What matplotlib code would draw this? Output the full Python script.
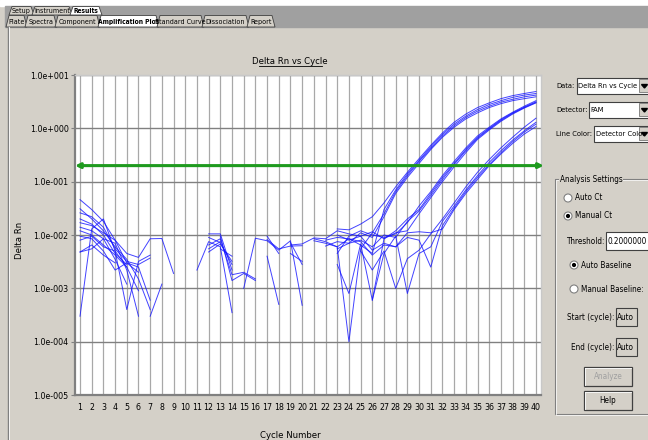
import numpy as np
import matplotlib.pyplot as plt
from matplotlib.patches import Rectangle, Polygon, Circle
from matplotlib.ticker import FixedLocator, FuncFormatter, NullLocator

plt.rcParams['font.family'] = ['DejaVu Sans']
plt.rcParams['font.stretch'] = 'condensed'

N = None
cycles = np.arange(1, 41)
threshold = 0.2

# Delta Rn per well; N where the baseline-corrected value drops below zero
well_a1 = [0.046, 0.030, 0.018, 0.008, 0.0045, 0.0038, 0.0085, 0.0086, 0.0019, N,
           N, 0.0105, 0.0105, 0.0022, N, N, 0.0082, 0.0055, 0.0062, 0.0063,
           N, N, 0.013, 0.0125, 0.016, 0.022, 0.040, 0.080, 0.150, 0.270,
           0.48, 0.82, 1.30, 1.85, 2.45, 3.00, 3.60, 4.10, 4.50, 4.90]
well_a2 = [0.031, 0.020, 0.012, 0.006, 0.0035, 0.0015, 0.0004, N, N, N,
           N, 0.0065, 0.0085, 0.0018, 0.0020, 0.0015, N, N, 0.0072, 0.0028,
           N, 0.0080, 0.0090, 0.0085, 0.0065, 0.0045, 0.030, 0.070, 0.140, 0.250,
           0.45, 0.77, 1.20, 1.70, 2.25, 2.80, 3.30, 3.80, 4.20, 4.50]
well_a3 = [0.0003, 0.013, 0.020, 0.005, 0.0004, 0.0032, 0.0042, N, N, N,
           0.0022, 0.0075, 0.0060, 0.00035, N, N, N, N, N, N,
           0.0085, 0.0075, 0.0060, 0.0001, 0.0055, 0.011, 0.025, 0.065, 0.130, 0.240,
           0.42, 0.72, 1.12, 1.60, 2.10, 2.60, 3.10, 3.50, 3.90, 4.20]
well_a4 = [0.020, 0.016, 0.010, 0.0045, 0.0028, N, N, N, N, N,
           N, 0.0055, 0.0075, N, 0.0010, 0.0087, 0.0078, 0.0052, 0.0078, 0.00048,
           N, N, 0.0055, 0.0070, 0.011, 0.0090, 0.022, 0.060, 0.120, 0.220,
           0.40, 0.68, 1.05, 1.50, 1.95, 2.45, 2.90, 3.30, 3.60, 3.90]
well_b1 = [0.014, 0.012, 0.0085, 0.0070, 0.0022, 0.0003, N, N, N, N,
           N, N, 0.0095, 0.0014, 0.0019, 0.0014, N, N, N, N,
           N, N, 0.0045, 0.0095, 0.012, 0.010, 0.009, 0.0105, 0.017, 0.035,
           0.065, 0.13, 0.24, 0.43, 0.72, 1.05, 1.50, 2.00, 2.60, 3.30]
well_b2 = [0.008, 0.0095, 0.006, 0.005, 0.0025, N, 0.0003, 0.0012, N, N,
           N, N, N, N, N, N, 0.0095, 0.0045, N, N,
           N, N, 0.0028, 0.0008, 0.0068, 0.0006, 0.0085, 0.012, 0.020, 0.030,
           0.060, 0.12, 0.22, 0.40, 0.68, 1.00, 1.45, 1.95, 2.50, 3.15]
well_b3 = [0.0048, 0.0065, 0.0042, 0.003, N, 0.00028, N, N, N, N,
           N, 0.009, 0.0072, 0.0028, N, N, 0.004, 0.0005, N, N,
           N, 0.0062, 0.0075, 0.007, 0.008, 0.006, 0.010, 0.009, 0.018, 0.028,
           0.055, 0.11, 0.21, 0.38, 0.65, 0.97, 1.40, 1.90, 2.45, 3.05]
well_b4 = [0.0095, 0.0085, 0.005, 0.0022, 0.003, 0.0025, 0.0006, N, N, N,
           N, N, N, N, N, N, N, N, 0.0065, 0.0068,
           0.0088, 0.0085, 0.012, 0.0105, 0.0095, 0.0115, 0.0085, 0.011, 0.012, 0.025,
           0.050, 0.10, 0.19, 0.35, 0.62, 0.93, 1.35, 1.85, 2.40, 3.00]
well_c1 = [0.026, 0.022, 0.014, 0.0055, 0.0032, 0.0028, 0.0037, N, N, N,
           N, 0.0048, 0.0068, 0.0032, N, N, N, N, 0.0045, 0.0032,
           N, N, N, N, 0.005, 0.0022, 0.005, 0.001, 0.0036, 0.0052,
           0.0105, 0.020, 0.040, 0.080, 0.15, 0.26, 0.43, 0.68, 1.05, 1.55]
well_c2 = [0.0048, 0.0055, 0.0085, 0.0035, 0.0012, N, N, N, N, N,
           N, N, 0.0055, 0.0040, N, N, N, N, N, N,
           N, N, N, N, N, 0.0006, 0.0045, 0.0095, 0.0008, 0.0045,
           0.006, 0.018, 0.035, 0.070, 0.13, 0.23, 0.38, 0.60, 0.90, 1.30]
well_c3 = [0.012, 0.010, 0.0065, 0.0042, 0.0025, 0.0009, N, N, N, N,
           N, N, N, N, N, N, N, N, N, N,
           0.0078, 0.007, 0.006, 0.0085, 0.0075, 0.0042, 0.0065, 0.006, 0.009, 0.008,
           0.0025, 0.015, 0.032, 0.065, 0.12, 0.21, 0.35, 0.56, 0.85, 1.20]
well_c4 = [0.017, 0.015, 0.011, 0.008, 0.003, 0.002, N, N, N, N,
           N, N, N, N, N, 0.0025, N, N, N, N,
           N, N, 0.010, 0.008, 0.0095, 0.0052, 0.007, 0.006, 0.011, 0.0115,
           0.011, 0.013, 0.030, 0.060, 0.11, 0.20, 0.33, 0.52, 0.78, 1.08]

wells = [well_a1, well_a2, well_a3, well_a4, well_b1, well_b2, well_b3, well_b4,
         well_c1, well_c2, well_c3, well_c4]

PANEL = '#d4d0c8'
DARK = '#808080'
FS = 5.9   # dialog text size

fig = plt.figure(figsize=(6.48, 4.4), dpi=100, facecolor=PANEL)

# window chrome drawn in pixel coordinates
bg = fig.add_axes([0, 0, 1, 1])
bg.set_xlim(0, 648)
bg.set_ylim(440, 0)
bg.axis('off')

bg.add_patch(Rectangle((0, 0), 648, 6, color='white'))
bg.add_patch(Rectangle((5, 6), 643, 21, color='#a0a0a0'))
bg.plot([8, 8], [27, 440], color=DARK, lw=1)
bg.plot([9, 9], [27, 440], color='white', lw=0.6)


def tab(x0, x1, y0, y1, label, selected=False):
    pts = [(x0, y1), (x0 + 3, y0), (x1 - 1, y0), (x1 + 2, y1)]
    bg.add_patch(Polygon(pts, closed=True, facecolor='white' if selected else PANEL,
                         edgecolor='#404040', lw=0.6))
    bg.text((x0 + x1) / 2 + 1, (y0 + y1) / 2 + 0.5, label, ha='center', va='center',
            fontsize=4.8 if selected else 5.1,
            fontweight='bold' if selected else 'normal', color='black')


for x0, x1, lab, sel in [(9, 32, 'Setup', False), (32, 70, 'Instrument', False),
                         (70, 100, 'Results', True)]:
    tab(x0, x1, 6.5, 15, lab, sel)
for x0, x1, lab, sel in [(6, 25, 'Plate', False), (25, 55, 'Spectra', False),
                         (55, 98, 'Component', False), (98, 157, 'Amplification Plot', True),
                         (157, 202, 'Standard Curve', False), (202, 247, 'Dissociation', False),
                         (247, 273, 'Report', False)]:
    tab(x0, x1, 15.5, 27, lab, sel)

# title and axis names
bg.text(290, 61, 'Delta Rn vs Cycle', ha='center', va='center', fontsize=6.8)
bg.plot([259, 322], [66, 66], color='black', lw=0.6)
bg.text(20, 240, 'Delta Rn', ha='center', va='center', rotation=90, fontsize=6.8)
bg.text(290, 435, 'Cycle Number', ha='center', va='center', fontsize=6.8)


def combo(x0, x1, y0, y1, text):
    bg.add_patch(Rectangle((x0, y0), x1 - x0, y1 - y0, facecolor='white',
                           edgecolor='#404040', lw=0.8))
    bg.add_patch(Rectangle((x1 - 11, y0 + 1.5), 11, y1 - y0 - 3, facecolor=PANEL,
                           edgecolor='#606060', lw=0.5))
    cx, cy = x1 - 5.5, (y0 + y1) / 2
    bg.add_patch(Polygon([(cx - 3, cy - 1.5), (cx + 3, cy - 1.5), (cx, cy + 2)],
                         closed=True, color='black'))
    bg.text(x0 + 1.5, (y0 + y1) / 2, text, ha='left', va='center', fontsize=5.4)


bg.text(556, 86, 'Data:', ha='left', va='center', fontsize=5.4)
combo(577, 650, 78, 94, 'Delta Rn vs Cycle')
bg.text(556, 110, 'Detector:', ha='left', va='center', fontsize=5.4)
combo(589, 650, 102, 118, 'FAM')
bg.text(556, 134, 'Line Color:', ha='left', va='center', fontsize=5.4)
combo(594, 650, 126, 142, 'Detector Color')

# analysis settings group
bg.add_patch(Rectangle((555, 179), 100, 235, facecolor='none', edgecolor=DARK, lw=0.8))
bg.add_patch(Rectangle((556, 180), 100, 235, facecolor='none', edgecolor='white', lw=0.5))
bg.text(560, 179, 'Analysis Settings', ha='left', va='center', fontsize=FS,
        bbox=dict(facecolor=PANEL, edgecolor='none', pad=0.5))


def radio(x, y, label, checked):
    bg.add_patch(Circle((x, y), 4, facecolor='white', edgecolor=DARK, lw=0.8))
    if checked:
        bg.add_patch(Circle((x, y), 1.4, color='black'))
    bg.text(x + 7, y, label, ha='left', va='center', fontsize=FS)


radio(568, 198, 'Auto Ct', False)
radio(568, 216, 'Manual Ct', True)
radio(574, 265, 'Auto Baseline', True)
radio(574, 289, 'Manual Baseline:', False)

bg.text(604, 241, 'Threshold:', ha='right', va='center', fontsize=FS)
bg.add_patch(Rectangle((606, 232), 44, 18, facecolor='white', edgecolor='#404040', lw=0.8))
bg.text(607.5, 241, '0.2000000', ha='left', va='center', fontsize=FS)

for y0, lab in [(308, 'Start (cycle):'), (338, 'End (cycle):')]:
    bg.text(614, y0 + 9, lab, ha='right', va='center', fontsize=FS)
    bg.add_patch(Rectangle((616, y0), 21, 18, facecolor=PANEL, edgecolor='#404040', lw=0.8))
    bg.text(617, y0 + 9, 'Auto', ha='left', va='center', fontsize=FS)

for y0, lab, col in [(367, 'Analyze', '#a0a0a0'), (391, 'Help', 'black')]:
    bg.add_patch(Rectangle((584, y0), 48, 19, facecolor=PANEL, edgecolor='#404040', lw=0.9))
    bg.plot([585, 631], [y0 + 1, y0 + 1], color='white', lw=0.6)
    bg.plot([585, 585], [y0 + 1, y0 + 18], color='white', lw=0.6)
    bg.text(608, y0 + 9.5, lab, ha='center', va='center', fontsize=FS, color=col)

# amplification plot
ax = fig.add_axes([75 / 648, 1 - 395 / 440, 466 / 648, 320 / 440])
ax.set_facecolor('white')
ax.set_yscale('log')
ax.set_xlim(0.57, 40.43)
ax.set_ylim(1e-5, 1e1)

ax.xaxis.set_major_locator(FixedLocator(cycles))
ax.yaxis.set_major_locator(FixedLocator([1e-5, 1e-4, 1e-3, 1e-2, 1e-1, 1e0, 1e1]))
ax.yaxis.set_minor_locator(NullLocator())
ax.yaxis.set_major_formatter(FuncFormatter(
    lambda v, pos: '1.0e{:+04d}'.format(int(round(np.log10(v))))))

for c in cycles:
    ax.axvline(c, color='#a8a8a8', lw=0.9, zorder=1)
for e in range(-5, 2):
    ax.axhline(10.0 ** e, color=DARK, lw=1.0, zorder=1)

ax.tick_params(axis='x', length=0, pad=6, labelsize=6.3)
ax.tick_params(axis='y', length=3, width=0.8, color=DARK, pad=1.5, labelsize=6.3)
for side in ['left', 'bottom']:
    ax.spines[side].set_color(DARK)
    ax.spines[side].set_linewidth(1.6)
for side in ['top', 'right']:
    ax.spines[side].set_color('#c8c8c8')
    ax.spines[side].set_linewidth(1.0)

for w in wells:
    ax.plot(cycles, np.array(w, dtype=float), color='#1414ff', lw=0.7, alpha=0.8, zorder=3)

ax.annotate('', xy=(1.006, threshold), xytext=(0.0, threshold),
            xycoords=('axes fraction', 'data'), textcoords=('axes fraction', 'data'),
            arrowprops=dict(arrowstyle='<|-|>', color='#1e9a1e', lw=2.2,
                            mutation_scale=7, shrinkA=0, shrinkB=0),
            annotation_clip=False, zorder=4)

fig.savefig('out.png', dpi=100, facecolor=PANEL)
